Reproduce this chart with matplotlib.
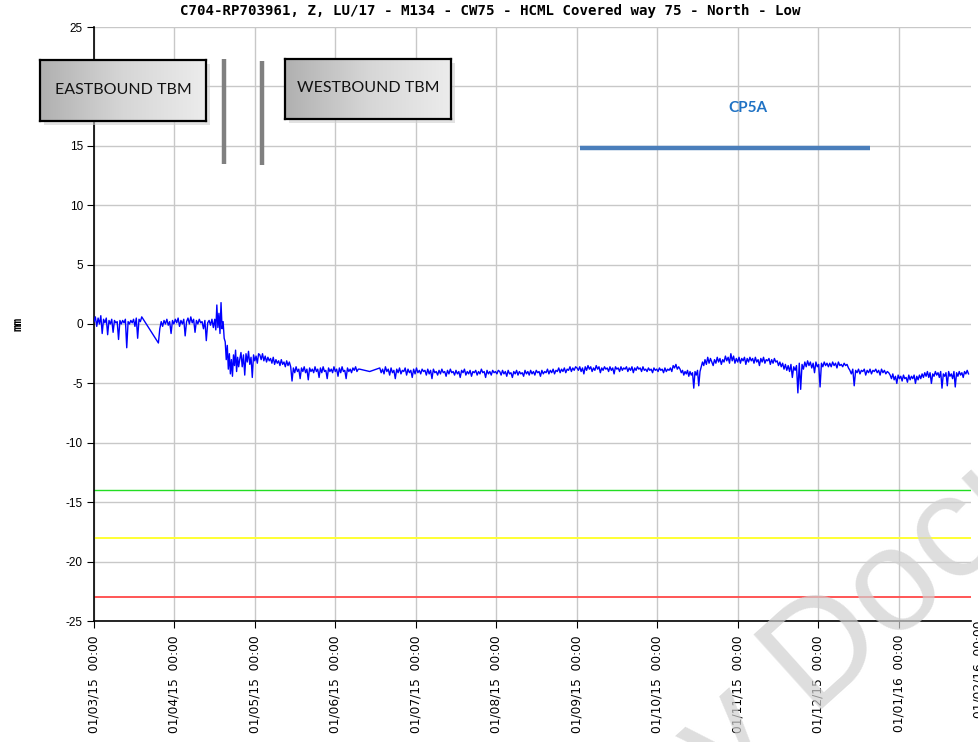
import numpy as np
import matplotlib
matplotlib.use("Agg")
import matplotlib.pyplot as plt

plt.rcParams['axes.unicode_minus'] = False

# month index 0 = 01/03/15
tick_labels = ["01/03/15  00:00", "01/04/15  00:00", "01/05/15  00:00", "01/06/15  00:00",
               "01/07/15  00:00", "01/08/15  00:00", "01/09/15  00:00", "01/10/15  00:00",
               "01/11/15  00:00", "01/12/15  00:00", "01/01/16  00:00", "01/02/16  00:00"]

# readings in chunks: (start month, end month, values in mm)
chunks = [
    (0.00, 0.61, [0.2, 0.6, -0.2, 0.5, 0.0, 0.7, -0.8, 0.4, 0.1, 0.5, -0.9, 0.3, 0.0, 0.4,
                  -0.7, 0.3, 0.1, 0.2, -1.3, 0.3, 0.0, 0.3, 0.1, 0.4, -2.0, 0.2, 0.0, 0.3,
                  0.1, 0.4, -0.2, 0.5, -1.2, 0.4, 0.2, 0.6]),
    (0.80, 1.50, [-1.6, -0.4, 0.2, -0.2, 0.3, 0.0, 0.4, -0.1, 0.2, -0.8, 0.3, 0.0, 0.4, 0.1,
                  0.5, -0.2, 0.3, 0.0, 0.4, -1.0, 0.2, 0.5, 0.0, 0.6, 0.1, 0.4, -0.7, 0.3,
                  0.0, 0.4, 0.1, 0.2, -0.4, 0.3, -1.4, 0.1, 0.3, -0.1, 0.4, -0.3]),
    (1.50, 1.63, [0.4, -0.5, 1.6, -0.3, 0.9, -0.8, 1.8, -0.4, 0.2, -1.2]),
    (1.63, 1.81, [-1.5, -3.0, -1.8, -3.8, -2.5, -4.2, -3.0, -4.4, -2.6, -3.5, -2.2, -4.0,
                  -2.8, -3.6]),
    (1.81, 2.06, [-3.0, -2.4, -3.6, -2.6, -4.3, -2.5, -3.2, -2.3, -3.4, -2.8, -4.5, -2.6,
                  -3.1, -2.7, -3.3, -2.5]),
    (2.06, 2.46, [-2.6, -3.0, -2.5, -3.1, -2.7, -3.2, -2.8, -3.1, -2.9, -3.3, -2.8, -3.4,
                  -3.0, -3.3, -3.1, -3.5, -3.0, -3.4, -3.2, -3.6, -3.1, -3.5, -3.2, -3.6]),
    (2.46, 3.30, [-4.8, -3.7, -4.1, -3.6, -4.0, -3.8, -4.6, -3.7, -4.0, -3.6, -4.1, -3.8,
                  -4.7, -3.7, -4.0, -3.8, -4.1, -3.6, -4.0, -3.8, -4.5, -3.7, -4.1, -3.6,
                  -4.0, -3.9, -4.6, -3.7, -4.0, -3.8, -4.1, -3.6, -4.0, -3.8, -4.4, -3.7,
                  -4.1, -3.6, -4.0, -3.9, -4.6, -3.7, -4.0, -3.8, -4.1, -3.7, -3.9, -3.6,
                  -4.0, -3.8]),
    (3.30, 3.55, [-3.8, -4.0]),
    (3.55, 5.04, [-3.7, -4.1, -3.8, -4.2, -3.6, -4.0, -3.8, -4.3, -3.7, -4.1, -3.9, -4.6,
                  -3.8, -4.1, -3.7, -4.2, -3.9, -4.0, -3.7, -4.3, -3.8, -4.1, -3.9, -4.5,
                  -3.8, -4.2, -3.7, -4.1, -3.9, -4.2, -3.8, -4.0, -3.9, -4.3, -3.8, -4.2,
                  -3.9, -4.6, -3.8, -4.1, -4.0, -4.3, -3.9, -4.2, -3.8, -4.1, -4.0, -4.4,
                  -3.9, -4.2, -3.8, -4.1, -4.0, -4.3, -3.9, -4.2, -4.0, -4.5, -3.9, -4.1,
                  -3.8, -4.3, -4.0, -4.2, -3.9, -4.4, -4.0, -4.1, -3.9, -4.3, -4.0, -4.2,
                  -3.8, -4.1, -4.0, -4.5, -3.9, -4.2, -4.0, -4.3, -3.9, -4.1, -4.0, -4.2,
                  -3.9]),
    (5.04, 6.00, [-4.0, -4.3, -3.9, -4.2, -4.0, -4.4, -3.9, -4.2, -4.1, -4.5, -4.0, -4.2,
                  -3.9, -4.3, -4.0, -4.2, -4.1, -4.4, -3.9, -4.2, -4.0, -4.3, -3.9, -4.2,
                  -4.0, -4.3, -3.9, -4.1, -4.0, -4.4, -3.9, -4.2, -4.0, -4.1, -3.8, -4.2,
                  -3.9, -4.1, -3.8, -4.2, -3.9, -4.0, -3.7, -4.1, -3.8, -4.0, -3.7, -4.1,
                  -3.8, -3.9, -3.6, -4.0, -3.7, -3.9, -3.6]),
    (6.00, 7.28, [-3.7, -3.9, -3.6, -4.0, -3.7, -4.2, -3.6, -3.9, -3.5, -3.8, -3.6, -4.0,
                  -3.7, -3.9, -3.5, -3.8, -3.6, -4.1, -3.7, -3.9, -3.6, -3.8, -3.7, -4.0,
                  -3.6, -3.9, -3.7, -4.2, -3.6, -3.8, -3.7, -4.0, -3.6, -3.9, -3.7, -3.8,
                  -3.6, -4.0, -3.7, -3.9, -3.6, -4.1, -3.7, -3.9, -3.6, -3.8, -3.7, -4.0,
                  -3.6, -3.9, -3.8, -4.0, -3.7, -3.9, -3.8, -4.1, -3.7, -3.9, -3.8, -4.0,
                  -3.7, -3.9, -3.8, -4.1, -3.7, -4.0, -3.8, -3.9, -3.7, -4.0, -3.5, -3.7,
                  -3.4, -3.8, -3.6]),
    (7.28, 7.59, [-3.8, -4.1, -3.9, -4.3, -4.0, -4.2, -3.9, -4.4, -4.0, -4.3, -4.1, -5.4,
                  -4.0, -4.3, -3.9, -5.2, -4.0, -3.6, -3.2, -3.5]),
    (7.59, 8.52, [-3.0, -3.4, -2.8, -3.3, -2.9, -3.2, -3.5, -3.0, -3.3, -2.8, -3.2, -2.9,
                  -3.4, -3.0, -3.2, -2.7, -3.1, -2.8, -3.3, -2.5, -3.1, -2.7, -3.3, -2.9,
                  -3.2, -2.8, -3.3, -2.9, -3.1, -2.8, -3.4, -2.9, -3.2, -2.8, -3.1, -2.9,
                  -3.3, -2.8, -3.2, -3.0, -3.5, -2.9, -3.2, -2.8, -3.3, -3.0, -3.1, -2.9,
                  -3.4, -3.0, -3.3, -2.9, -3.2, -3.1, -3.5]),
    (8.52, 9.14, [-3.2, -3.6, -3.3, -3.8, -3.4, -3.9, -3.5, -4.0, -3.4, -4.5, -3.6, -3.9,
                  -3.5, -5.8, -3.3, -5.5, -3.4, -3.8, -3.2, -3.6, -3.1, -3.5, -3.2, -3.7,
                  -3.3, -4.1, -3.2, -3.6, -3.4, -5.3, -3.3, -3.6, -3.2, -3.5, -3.3, -3.6]),
    (9.14, 9.39, [-3.3, -3.6, -3.2, -3.5, -3.3, -3.7, -3.2, -3.5, -3.4, -3.6, -3.3, -3.5,
                  -3.4, -3.7]),
    (9.39, 9.89, [-3.9, -4.2, -3.8, -5.2, -3.9, -4.1, -3.8, -4.2, -3.9, -4.0, -3.8, -4.3,
                  -3.9, -4.1, -3.8, -4.2, -3.9, -4.0, -3.8, -4.1, -3.9, -4.3, -3.8, -4.1,
                  -3.9, -4.2, -4.0, -4.1]),
    (9.89, 10.32, [-4.3, -4.6, -4.2, -4.7, -4.4, -5.0, -4.3, -4.6, -4.4, -4.8, -4.3, -4.6,
                   -4.5, -4.9, -4.3, -4.7, -4.4, -4.6, -4.3, -5.0, -4.4, -4.7, -4.3, -4.6,
                   -4.2, -4.5]),
    (10.32, 10.88, [-4.1, -4.4, -4.0, -4.5, -4.1, -5.0, -4.2, -4.4, -4.0, -4.3, -4.1, -4.5,
                    -4.0, -5.4, -4.2, -4.4, -4.1, -5.2, -4.0, -4.4, -4.2, -4.6, -4.0, -5.3,
                    -4.1, -4.4, -4.0, -4.3, -4.1, -4.5, -4.0, -4.2, -3.9, -4.2]),
]

thresholds = [(-14, '#22dd22', 1.0), (-18, '#ffff33', 1.4), (-23, '#ff5555', 1.4)]

# TBM passage markers (month, top, bottom)
tbm_marks = [(1.615, 22.3, 13.5), (2.087, 22.1, 13.4)]
cp5a_span = (6.04, 9.64, 14.8)

t, v = [], []
for start, end, vals in chunks:
    t.extend(np.linspace(start, end, len(vals), endpoint=False))
    v.extend(vals)

W, H = 979, 742
fig = plt.figure(figsize=(W / 100, H / 100), dpi=100)
ax = fig.add_axes([94 / W, (H - 621) / H, (971 - 94) / W, 594 / H])

ax.plot(t, v, color='#0000ff', lw=1.0, zorder=3)
for y, c, lw in thresholds:
    ax.axhline(y, color=c, lw=lw, zorder=2)

for x, top, bot in tbm_marks:
    ax.plot([x, x], [bot, top], color='#808080', lw=3.2, solid_capstyle='butt', zorder=4)
ax.plot(cp5a_span[:2], [cp5a_span[2]] * 2, color='#4a7ebb', lw=3.2,
        solid_capstyle='butt', zorder=4)
ax.text(8.12, 18.2, "CP5A", color='#1f72c4', fontsize=11, fontweight='bold',
        family='Lato', ha='center', va='center')

xlim_right = (971 - 94) / 80.5
ax.set_xlim(0, xlim_right)
ax.set_ylim(-25, 25)
ax.set_xticks(range(11))
ax.set_xticklabels(tick_labels[:11], rotation=90, fontsize=8.8, family='DejaVu Sans')
ax.text(11, -25, tick_labels[11], transform=ax.transData, rotation=90, fontsize=8.8,
        ha='center', va='top', clip_on=False)
ax.set_yticks(range(-25, 26, 5))
ax.tick_params(axis='y', labelsize=8.5, length=5, pad=3)
ax.tick_params(axis='x', length=5, pad=5)
for lab in ax.get_yticklabels():
    lab.set_family('Liberation Sans')
ax.grid(True, color='#c8c8c8', lw=1)
ax.set_axisbelow(True)
for s in ['top', 'right']:
    ax.spines[s].set_visible(False)
ax.spines['left'].set_linewidth(1.2)
ax.spines['bottom'].set_linewidth(1.2)

fig.text(490 / W, 1 - 11 / H, "C704-RP703961, Z, LU/17 - M134 - CW75 - HCML Covered way 75 - North - Low",
         ha='center', va='center', family='DejaVu Sans Mono', fontweight='bold', fontsize=10.2)
fig.text(18 / W, 1 - 324 / H, "mm", rotation=90, ha='center', va='center',
         family='DejaVu Sans Mono', fontweight='bold', fontsize=8.5)

# gradient boxes
grad = np.linspace(0, 1, 256).reshape(1, -1)
boxes = [("EASTBOUND TBM", 40, 60, 206, 121, 0.5), ("WESTBOUND TBM", 285, 59, 451, 119, 0.52)]
for label, x0, y0, x1, y1, ty in boxes:
    sh = fig.add_axes([(x0 + 4) / W, 1 - (y1 + 4) / H, (x1 - x0) / W, (y1 - y0) / H])
    sh.set_facecolor('#d0d0d0')
    sh.patch.set_alpha(0.6)
    sh.set_xticks([]); sh.set_yticks([])
    for s in sh.spines.values():
        s.set_visible(False)
    bx = fig.add_axes([x0 / W, 1 - y1 / H, (x1 - x0) / W, (y1 - y0) / H])
    bx.imshow(grad, aspect='auto', cmap=matplotlib.colors.LinearSegmentedColormap.from_list(
        'g', ['#b0b0b0', '#d6d6d6', '#ececec']), extent=[0, 1, 0, 1])
    bx.set_xlim(0, 1); bx.set_ylim(0, 1)
    bx.set_xticks([]); bx.set_yticks([])
    for s in bx.spines.values():
        s.set_linewidth(1.6)
        s.set_color('black')
    bx.text(0.5, ty, label, ha='center', va='center', fontsize=11.5, family='Lato', color='#111111')

fig.text(842 / W, 1 - 640 / H, "by Docu", rotation=42, fontsize=106, color='#d0d0d0',
         alpha=0.7, ha='center', va='center', family='Liberation Sans', zorder=10)

fig.savefig("out.png", dpi=100)
